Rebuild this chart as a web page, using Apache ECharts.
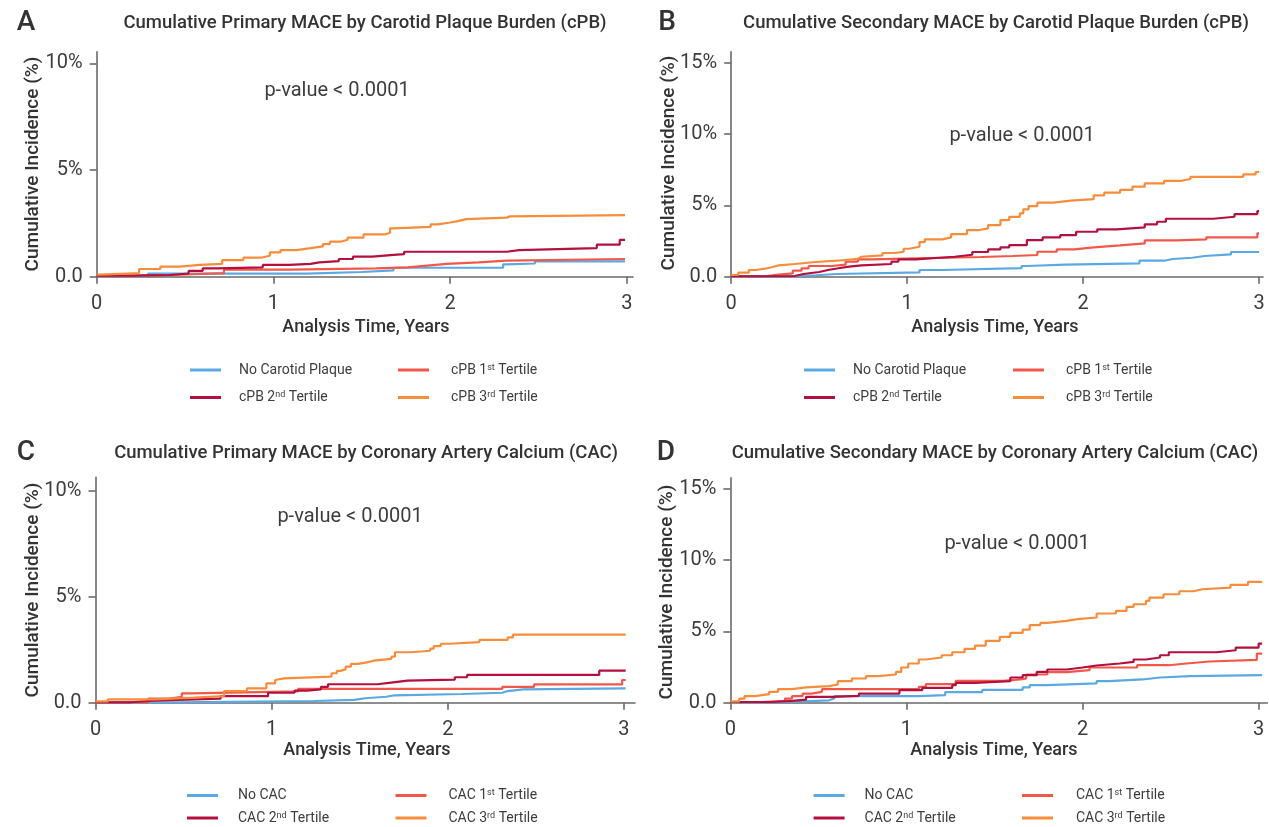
<!DOCTYPE html>
<html><head><meta charset="utf-8">
<script src="https://cdn.jsdelivr.net/npm/echarts@6/dist/echarts.min.js"></script>
<style>html,body{margin:0;padding:0;background:#fff}#c{width:1269px;height:827px}</style>
</head><body><div id="c"></div>
<script>
// ---------- DATA (time in years, cumulative incidence in %) ----------
const namesCPB = ['No Carotid Plaque', 'cPB 1st Tertile', 'cPB 2nd Tertile', 'cPB 3rd Tertile'];
const namesCAC = ['No CAC', 'CAC 1st Tertile', 'CAC 2nd Tertile', 'CAC 3rd Tertile'];
const xTicks = [0, 1, 2, 3];
const yTicksPrimary = [0, 5, 10];
const yTicksSecondary = [0, 5, 10, 15];

// Panel A: Primary MACE by cPB
const A_none = [[0,0.02],[0.29,0.14],[1.19,0.22],[1.5,0.3],[1.68,0.42],[2.3,0.58],[2.32,0.62],[2.48,0.72],[2.99,0.72]];
const A_t1 = [[0,0.04],[0.1,0.08],[0.42,0.17],[0.72,0.33],[1.09,0.39],[1.58,0.44],[1.76,0.52],[1.87,0.6],[1.98,0.67],[2.16,0.75],[2.32,0.83],[2.99,0.83]];
const A_t2 = [[0,0.05],[0.2,0.08],[0.415,0.15],[0.52,0.27],[0.6,0.39],[0.68,0.44],[0.94,0.55],[1.09,0.6],[1.21,0.67],[1.26,0.73],[1.37,0.83],[1.45,0.94],[1.56,1.02],[1.68,1.06],[1.74,1.17],[2.32,1.25],[2.39,1.34],[2.83,1.5],[2.96,1.73],[2.99,1.73]];
const A_t3 = [[0,0.1],[0.02,0.17],[0.24,0.36],[0.36,0.47],[0.47,0.55],[0.585,0.6],[0.71,0.78],[0.83,0.89],[0.93,0.98],[0.98,1.14],[1.04,1.25],[1.13,1.34],[1.21,1.42],[1.28,1.53],[1.32,1.64],[1.38,1.73],[1.42,1.83],[1.51,1.98],[1.63,2.06],[1.66,2.27],[1.68,2.34],[1.89,2.45],[1.93,2.54],[2.0,2.62],[2.05,2.7],[2.09,2.77],[2.32,2.83],[2.34,2.89],[2.99,2.89]];

// Panel B: Secondary MACE by cPB
const B_none = [[0,0.02],[0.33,0.1],[0.48,0.19],[0.6,0.3],[1.07,0.47],[1.2,0.6],[1.65,0.75],[1.68,0.84],[1.9,0.94],[2.32,1.12],[2.46,1.24],[2.51,1.33],[2.62,1.45],[2.69,1.56],[2.84,1.73],[3.0,1.73]];
const B_t1 = [[0,0.03],[0.19,0.14],[0.27,0.23],[0.35,0.42],[0.4,0.59],[0.44,0.75],[0.57,0.84],[0.65,1.05],[0.72,1.21],[0.8,1.28],[1.05,1.38],[1.42,1.45],[1.6,1.52],[1.74,1.75],[1.85,1.91],[1.95,2.05],[2.06,2.19],[2.21,2.33],[2.35,2.54],[2.53,2.61],[2.7,2.76],[2.99,3.04],[3.0,3.04]];
const B_t2 = [[0,0.03],[0.2,0.05],[0.36,0.19],[0.41,0.33],[0.5,0.47],[0.55,0.59],[0.61,0.7],[0.67,0.8],[0.74,0.89],[0.91,1.05],[0.95,1.21],[1.05,1.31],[1.16,1.4],[1.27,1.54],[1.37,1.73],[1.46,1.91],[1.53,2.06],[1.58,2.22],[1.68,2.57],[1.77,2.76],[1.87,2.92],[1.96,3.15],[2.08,3.32],[2.19,3.46],[2.35,3.67],[2.42,3.85],[2.47,4.06],[2.74,4.2],[2.86,4.39],[2.99,4.6],[3.0,4.6]];
const B_t3 = [[0,0.12],[0.04,0.28],[0.1,0.47],[0.14,0.56],[0.19,0.66],[0.23,0.8],[0.27,0.89],[0.36,1.03],[0.48,1.12],[0.6,1.26],[0.72,1.4],[0.74,1.5],[0.86,1.66],[0.93,1.75],[0.98,1.96],[1.01,2.1],[1.07,2.43],[1.1,2.62],[1.2,2.76],[1.25,2.99],[1.34,3.27],[1.41,3.39],[1.46,3.62],[1.53,3.97],[1.58,4.2],[1.64,4.44],[1.66,4.72],[1.69,4.95],[1.74,5.19],[1.83,5.33],[1.93,5.44],[2.06,5.7],[2.12,5.89],[2.21,6.08],[2.28,6.31],[2.35,6.54],[2.46,6.71],[2.55,6.85],[2.61,7.0],[2.91,7.17],[2.98,7.34],[3.0,7.34]];

// Panel C: Primary MACE by CAC
const C_none = [[0,0.0],[0.32,0.04],[0.75,0.08],[1.24,0.13],[1.47,0.21],[1.53,0.28],[1.65,0.35],[1.7,0.41],[2.08,0.47],[2.31,0.55],[2.34,0.63],[2.43,0.68],[3.01,0.68]];
const C_t1 = [[0,0.02],[0.3,0.19],[0.42,0.28],[0.49,0.44],[0.54,0.53],[1.15,0.65],[2.31,0.75],[2.49,0.86],[2.99,1.07],[3.01,1.07]];
const C_t2 = [[0,0.02],[0.2,0.08],[0.3,0.13],[0.47,0.19],[0.71,0.31],[0.98,0.47],[1.13,0.57],[1.2,0.63],[1.28,0.75],[1.32,0.87],[1.6,0.96],[1.69,1.04],[1.77,1.09],[2.04,1.2],[2.11,1.31],[2.86,1.51],[3.01,1.51]];
const C_t3 = [[0,0.06],[0.07,0.16],[0.33,0.24],[0.56,0.31],[0.73,0.55],[0.86,0.68],[0.97,0.91],[1.02,1.07],[1.03,1.15],[1.07,1.23],[1.34,1.39],[1.37,1.5],[1.39,1.57],[1.42,1.7],[1.45,1.83],[1.49,1.9],[1.54,1.98],[1.58,2.07],[1.68,2.17],[1.7,2.38],[1.79,2.45],[1.9,2.55],[1.92,2.67],[1.96,2.78],[2.01,2.86],[2.18,2.96],[2.34,3.08],[2.37,3.21],[3.01,3.21]];

// Panel D: Secondary MACE by CAC
const D_none = [[0,0.03],[0.29,0.17],[0.56,0.29],[0.59,0.46],[1.07,0.53],[1.22,0.74],[1.43,0.9],[1.66,1.07],[1.7,1.23],[1.8,1.35],[2.08,1.51],[2.15,1.63],[2.34,1.77],[2.44,1.86],[2.61,1.93],[3.02,1.93]];
const D_t1 = [[0,0.05],[0.18,0.13],[0.31,0.29],[0.35,0.46],[0.41,0.64],[0.46,0.76],[0.52,0.95],[1.07,1.11],[1.11,1.3],[1.28,1.53],[1.55,1.65],[1.66,1.7],[1.68,1.98],[1.8,2.14],[1.91,2.28],[2.04,2.47],[2.31,2.63],[2.49,2.75],[2.59,2.89],[2.72,3.0],[2.99,3.45],[3.02,3.45]];
const D_t2 = [[0,0.05],[0.24,0.13],[0.35,0.22],[0.43,0.41],[0.58,0.48],[0.73,0.64],[0.96,0.88],[1.09,1.04],[1.26,1.23],[1.28,1.39],[1.39,1.51],[1.59,1.77],[1.66,1.93],[1.74,2.16],[1.8,2.33],[1.91,2.47],[2.0,2.61],[2.08,2.75],[2.21,2.86],[2.29,3.03],[2.36,3.17],[2.44,3.33],[2.49,3.54],[2.76,3.68],[2.87,3.87],[3.0,4.15],[3.02,4.15]];
const D_t3 = [[0,0.1],[0.05,0.29],[0.08,0.46],[0.14,0.6],[0.22,0.76],[0.27,0.95],[0.35,1.07],[0.43,1.16],[0.56,1.28],[0.61,1.51],[0.69,1.7],[0.77,1.86],[0.84,1.98],[0.94,2.16],[0.97,2.47],[1.01,2.75],[1.07,3.03],[1.11,3.17],[1.2,3.33],[1.26,3.54],[1.33,3.78],[1.39,4.01],[1.45,4.34],[1.53,4.62],[1.59,4.9],[1.66,5.13],[1.7,5.44],[1.76,5.6],[1.8,5.74],[1.91,5.86],[1.97,5.98],[2.08,6.26],[2.19,6.44],[2.25,6.72],[2.29,6.91],[2.36,7.14],[2.38,7.38],[2.46,7.61],[2.55,7.82],[2.63,7.96],[2.68,8.08],[2.84,8.27],[2.94,8.48],[3.02,8.48]];

// ---------- STYLE / LAYOUT ----------
const COLORS = ['#5AA9E2', '#F2584A', '#B3103F', '#F78D3B'];
const FONT = 'Roboto, "Liberation Sans", sans-serif';
const TXT = '#3d3d3d';
const AXC = '#6a6a6a';

const panels = [
  { letter: 'A', title: 'Cumulative Primary MACE by Carotid Plaque Burden (cPB)', names: namesCPB,
    data: [A_none, A_t1, A_t2, A_t3], yTicks: yTicksPrimary, xMax: 3.035, yMax: 10.55,
    grid: { left: 96.7, top: 51.7, width: 536.3, height: 225 },
    letterPos: [26, 23], titlePos: [365, 23], pPos: [337, 91], xNamePos: [366, 327], yNamePos: [33, 164],
    legCols: [190, 398], legRows: [371, 398.5], legPad: [13, 17] },
  { letter: 'B', title: 'Cumulative Secondary MACE by Carotid Plaque Burden (cPB)', names: namesCPB,
    data: [B_none, B_t1, B_t2, B_t3], yTicks: yTicksSecondary, xMax: 3.022, yMax: 15.77,
    grid: { left: 731.2, top: 51.7, width: 531.8, height: 225 },
    letterPos: [667, 23], titlePos: [996, 23], pPos: [1022, 136], xNamePos: [995, 327], yNamePos: [669, 163],
    legCols: [804, 1013], legRows: [371, 398.5], legPad: [13, 17] },
  { letter: 'C', title: 'Cumulative Primary MACE by Coronary Artery Calcium (CAC)', names: namesCAC,
    data: [C_none, C_t1, C_t2, C_t3], yTicks: yTicksPrimary, xMax: 3.063, yMax: 10.63,
    grid: { left: 95.5, top: 477.3, width: 539.5, height: 225.4 },
    letterPos: [26, 453], titlePos: [366, 453], pPos: [350, 517], xNamePos: [367, 750], yNamePos: [33, 590],
    legCols: [187, 395.5], legRows: [796.5, 819], legPad: [15, 17] },
  { letter: 'D', title: 'Cumulative Secondary MACE by Coronary Artery Calcium (CAC)', names: namesCAC,
    data: [D_none, D_t1, D_t2, D_t3], yTicks: yTicksSecondary, xMax: 3.05, yMax: 15.79,
    grid: { left: 730.4, top: 477.7, width: 537, height: 225 },
    letterPos: [666, 453], titlePos: [995, 453], pPos: [1017, 544], xNamePos: [994, 750], yNamePos: [667, 592],
    legCols: [813.6, 1022], legRows: [796.5, 819], legPad: [15, 18] }
];

function legendFmt(name) {
  const m = name.match(/^(.*\d)(st|nd|rd)( .*)$/);
  if (!m) return '{n|' + name + '}';
  return '{n|' + m[1] + '}{s|' + m[2] + '}{n|' + m[3] + '}';
}

const grids = [], xAxes = [], yAxes = [], series = [], legends = [], graphics = [];

panels.forEach((p, i) => {
  grids.push(Object.assign({ containLabel: false }, p.grid));
  xAxes.push({
    gridIndex: i, type: 'value', min: 0, max: p.xMax, interval: 1,
    axisLine: { show: true, onZero: false, lineStyle: { color: AXC, width: 1.6 } },
    axisTick: { show: true, length: 7, customValues: xTicks, lineStyle: { color: AXC, width: 1.6 } },
    axisLabel: { customValues: xTicks, margin: 17, fontSize: 20, color: TXT, fontFamily: FONT },
    splitLine: { show: false }
  });
  yAxes.push({
    gridIndex: i, type: 'value', min: 0, max: p.yMax, interval: 5,
    axisLine: { show: true, onZero: false, lineStyle: { color: AXC, width: 1.6 } },
    axisTick: { show: true, length: 7, customValues: p.yTicks, lineStyle: { color: AXC, width: 1.6 } },
    axisLabel: { customValues: p.yTicks, margin: 14, fontSize: 20, color: TXT, fontFamily: FONT,
      formatter: v => (v === 0 ? '0.0' : v + '%') },
    splitLine: { show: false }
  });
  p.names.forEach((nm, k) => {
    series.push({
      name: nm, type: 'line', xAxisIndex: i, yAxisIndex: i, data: p.data[k],
      step: 'end', symbol: 'none', showSymbol: false, color: COLORS[k],
      lineStyle: { width: 2.2, color: COLORS[k] }, animation: false, silent: true
    });
  });
  // legends: order row-major: [none, t1] / [t2, t3]
  const layout = [[0, 0, 0], [1, 1, 0], [2, 0, 1], [3, 1, 1]];
  layout.forEach(([k, col, row]) => {
    legends.push({
      data: [p.names[k]], left: p.legCols[col], top: p.legRows[row] - 8,
      itemWidth: 31, itemHeight: 3, icon: 'rect', padding: 0, selectedMode: false,
      formatter: legendFmt,
      textStyle: { padding: [0, 0, 0, p.legPad[col]], color: TXT,
        rich: { n: { fontSize: 14, color: TXT, fontFamily: FONT },
                s: { fontSize: 9, color: TXT, fontFamily: FONT, verticalAlign: 'top', lineHeight: 10, padding: [0, 0, 6, 0] } } }
    });
  });
  graphics.push({ type: 'text', x: p.letterPos[0], y: p.letterPos[1],
    style: { text: p.letter, font: '500 28px ' + FONT, fill: '#333', align: 'center', verticalAlign: 'middle' } });
  graphics.push({ type: 'text', x: p.titlePos[0], y: p.titlePos[1],
    style: { text: p.title, font: '500 18.5px ' + FONT, fill: '#333', align: 'center', verticalAlign: 'middle' } });
  graphics.push({ type: 'text', x: p.pPos[0], y: p.pPos[1],
    style: { text: 'p-value < 0.0001', font: '400 20px ' + FONT, fill: TXT, align: 'center', verticalAlign: 'middle' } });
  graphics.push({ type: 'text', x: p.xNamePos[0], y: p.xNamePos[1],
    style: { text: 'Analysis Time, Years', font: '500 18px ' + FONT, fill: '#333', align: 'center', verticalAlign: 'middle' } });
  graphics.push({ type: 'text', x: p.yNamePos[0], y: p.yNamePos[1], rotation: Math.PI / 2,
    style: { text: 'Cumulative Incidence (%)', font: '500 19px ' + FONT, fill: '#333', align: 'center', verticalAlign: 'middle' } });
});

const chart = echarts.init(document.getElementById('c'), null, { renderer: 'canvas', width: 1269, height: 827 });
chart.setOption({
  animation: false,
  backgroundColor: '#ffffff',
  grid: grids, xAxis: xAxes, yAxis: yAxes, series: series, legend: legends, graphic: graphics
});
</script></body></html>
